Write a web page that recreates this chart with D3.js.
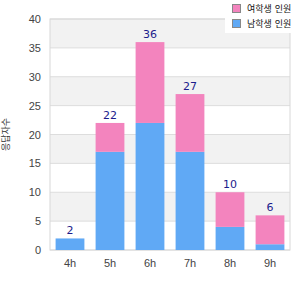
<!DOCTYPE html>
<html lang="ko">
<head>
  <meta charset="UTF-8">
  <title>수면 시간별 인원</title>
  <script src="https://d3js.org/d3.v7.min.js"></script>
  <style>
    body { margin: 0; background: #fff; }
    svg { font-family: "DejaVu Sans", "Noto Sans CJK KR", sans-serif; }
  </style>
</head>
<body>
  <svg id="chart"></svg>
  <script>
    // data
    const hours = ["4h", "5h", "6h", "7h", "8h", "9h"];
    const blueValues = [2, 17, 22, 17, 4, 1];
    const pinkValues = [0, 5, 14, 10, 6, 5];
    const seriesNames = ["여학생 인원", "남학생 인원"];   // pink, blue
    const yTicks = [0, 5, 10, 15, 20, 25, 30, 35, 40];

    const W = 300, H = 300;
    const margin = {top: 19, right: 10, bottom: 50, left: 50};
    const width = W - margin.left - margin.right;
    const height = H - margin.top - margin.bottom;

    const svg = d3.select("#chart").attr("width", W).attr("height", H);
    const g = svg.append("g").attr("transform", "translate(" + margin.left + "," + margin.top + ")");

    const x = d3.scaleBand().domain(hours).range([0, width]).paddingInner(0.28).paddingOuter(0.14);
    const y = d3.scaleLinear().domain([0, 40]).range([height, 0]);

    // alternating bands
    g.selectAll(".band")
      .data(yTicks.slice(1).filter((d, i) => i % 2 === 0))
      .enter().append("rect")
      .attr("x", 0).attr("width", width)
      .attr("y", d => y(d + 5)).attr("height", d => y(d) - y(d + 5))
      .attr("fill", "#f2f2f2");

    // grid
    g.selectAll(".grid")
      .data(yTicks)
      .enter().append("line")
      .attr("x1", 0).attr("x2", width)
      .attr("y1", d => y(d)).attr("y2", d => y(d))
      .attr("stroke", "#dddddd");

    g.append("rect")
      .attr("width", width).attr("height", height)
      .attr("fill", "none").attr("stroke", "#d8d8d8");

    // stacked bars
    g.selectAll(".blue")
      .data(hours)
      .enter().append("rect")
      .attr("x", d => x(d)).attr("width", x.bandwidth())
      .attr("y", (d, i) => y(blueValues[i]))
      .attr("height", (d, i) => y(0) - y(blueValues[i]))
      .attr("fill", "#60a9f5");

    g.selectAll(".pink")
      .data(hours)
      .enter().append("rect")
      .attr("x", d => x(d)).attr("width", x.bandwidth())
      .attr("y", (d, i) => y(blueValues[i] + pinkValues[i]))
      .attr("height", (d, i) => y(blueValues[i]) - y(blueValues[i] + pinkValues[i]))
      .attr("fill", "#f384be");

    // totals
    g.selectAll(".total")
      .data(hours)
      .enter().append("text")
      .attr("x", d => x(d) + x.bandwidth() / 2)
      .attr("y", (d, i) => y(blueValues[i] + pinkValues[i]) - 4)
      .attr("text-anchor", "middle")
      .attr("font-size", 11)
      .attr("fill", "#1c1c8c")
      .text((d, i) => blueValues[i] + pinkValues[i]);

    // axes
    const yAxis = g.append("g")
      .call(d3.axisLeft(y).tickValues(yTicks).tickSize(0).tickPadding(9));
    yAxis.select(".domain").remove();
    yAxis.selectAll("text").attr("font-size", 11).attr("fill", "#444");

    const xAxis = g.append("g")
      .attr("transform", "translate(0," + height + ")")
      .call(d3.axisBottom(x).tickSize(0).tickPadding(9));
    xAxis.select(".domain").remove();
    xAxis.selectAll("text").attr("font-size", 11).attr("fill", "#444");

    svg.append("text")
      .attr("transform", "translate(9," + (margin.top + height / 2) + ") rotate(-90)")
      .attr("text-anchor", "middle")
      .attr("font-size", 9)
      .attr("fill", "#333")
      .text("응답자수");

    // legend
    const legend = svg.append("g").attr("transform", "translate(225,0)");
    legend.append("rect").attr("width", 75).attr("height", 33).attr("fill", "#fff");
    const colors = ["#f384be", "#60a9f5"];
    seriesNames.forEach((name, i) => {
      legend.append("rect")
        .attr("x", 7.5).attr("y", 4.5 + i * 15)
        .attr("width", 8).attr("height", 8)
        .attr("fill", colors[i]).attr("stroke", "#888");
      legend.append("text")
        .attr("x", 22).attr("y", 12 + i * 15)
        .attr("font-size", 9).attr("fill", "#111")
        .text(name);
    });
  </script>
</body>
</html>
